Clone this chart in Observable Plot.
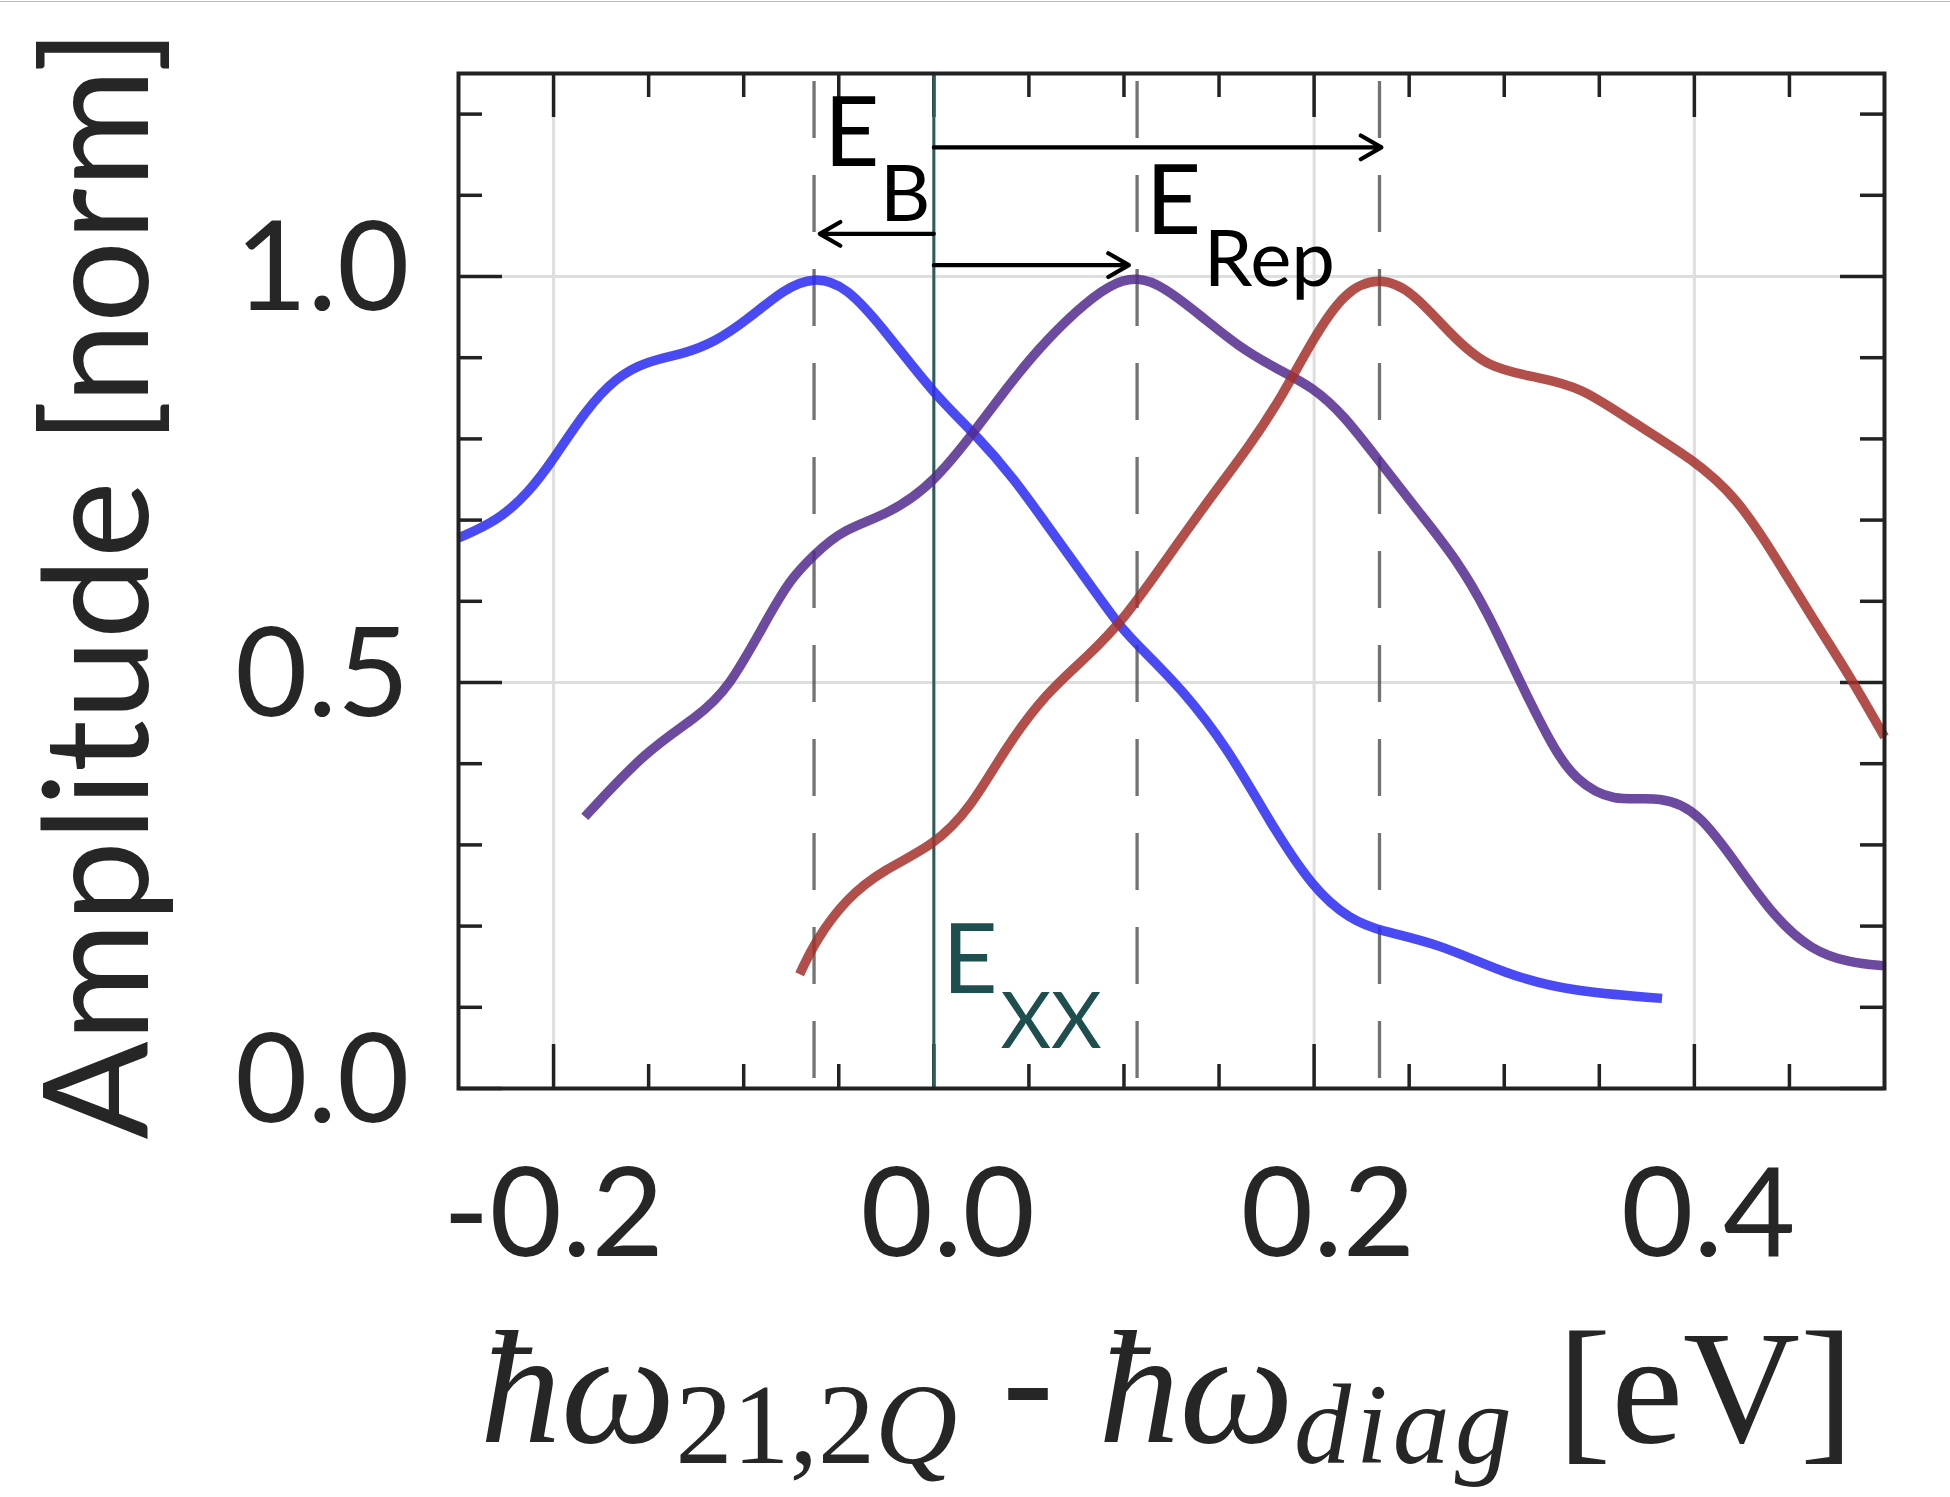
<!DOCTYPE html>
<html>
<head>
<meta charset="utf-8">
<script src="https://cdn.jsdelivr.net/npm/d3@7"></script>
<script src="https://cdn.jsdelivr.net/npm/@observablehq/plot@0.6"></script>
<style>
  html, body { margin: 0; padding: 0; background: #fff; }
  #topline { position: absolute; left: 0; top: 1px; width: 1950px; height: 1px; background: #b8b8b8; }
</style>
</head>
<body>
<div id="topline"></div>
<div id="chart"></div>
<script>
// ---- data ----
const blueX = [-0.25, -0.2295, -0.213, -0.200, -0.1836, -0.1672, -0.1508, -0.131, -0.1148, -0.0984, -0.0787, -0.063, -0.0459, -0.0262, 0, 0.021, 0.042, 0.0616, 0.078, 0.0977, 0.1076, 0.1305, 0.1552, 0.1764, 0.1994, 0.219, 0.2354, 0.265, 0.301, 0.3338, 0.383];
const blueY = [0.678, 0.699, 0.734, 0.775, 0.834, 0.876, 0.896, 0.905, 0.920, 0.946, 0.985, 1.0, 0.988, 0.935, 0.855, 0.808, 0.752, 0.687, 0.634, 0.569, 0.545, 0.492, 0.417, 0.329, 0.246, 0.208, 0.1936, 0.179, 0.1406, 0.120, 0.111];

const purpleX = [-0.1836, -0.151, -0.1246, -0.108, -0.0885, -0.0754, -0.063, -0.0492, -0.0229, 0, 0.021, 0.0387, 0.055, 0.0748, 0.0928, 0.1069, 0.1206, 0.1403, 0.16, 0.1797, 0.1994, 0.2158, 0.2354, 0.2551, 0.2748, 0.2912, 0.3076, 0.3262, 0.337, 0.3566, 0.383, 0.4026, 0.4223, 0.442, 0.4616, 0.4813, 0.5];
const purpleY = [0.3345, 0.417, 0.457, 0.492, 0.575, 0.628, 0.657, 0.687, 0.708, 0.746, 0.808, 0.864, 0.911, 0.958, 0.991, 1.0, 0.988, 0.952, 0.914, 0.887, 0.864, 0.829, 0.769, 0.710, 0.652, 0.587, 0.504, 0.417, 0.3815, 0.352, 0.361, 0.340, 0.276, 0.211, 0.170, 0.155, 0.151];

const redX = [-0.0706, -0.0623, -0.0459, -0.0262, 0, 0.0197, 0.037, 0.0584, 0.0814, 0.101, 0.1206, 0.1436, 0.1666, 0.183, 0.1994, 0.2158, 0.2344, 0.2517, 0.2715, 0.2912, 0.3174, 0.3403, 0.3666, 0.3993, 0.4223, 0.442, 0.4616, 0.4813, 0.5];
const redY = [0.1407, 0.182, 0.2347, 0.270, 0.299, 0.3465, 0.417, 0.486, 0.533, 0.581, 0.646, 0.722, 0.793, 0.852, 0.923, 0.982, 1.0, 0.982, 0.929, 0.887, 0.876, 0.864, 0.822, 0.775, 0.728, 0.657, 0.581, 0.510, 0.433];

const peakX = [-0.063, 0.1069, 0.2344];      // dashed peak markers
const excitonX = [0];                         // E_XX reference line

const xMajorTicks = [-0.2, 0, 0.2, 0.4];
const xMinorTicks = [-0.15, -0.1, -0.05, 0.05, 0.1, 0.15, 0.25, 0.3, 0.35, 0.45];
const yMajorTicks = [0, 0.5, 1.0];
const yMinorTicks = [0.1, 0.2, 0.3, 0.4, 0.6, 0.7, 0.8, 0.9, 1.1, 1.2];
const yGridLines = [0.5, 1.0];

// arrows: from E_XX (x=0) to each peak
const arrowStartX = [0, 0, 0];
const arrowEndX = [-0.06, 0.1026, 0.2354];
const arrowY = [1.0525, 1.014, 1.159];

// annotation anchors (data units)
const labelMain = ["E", "E", "E"];
const labelMainX = [-0.0578, 0.1114, 0.0044];
const labelMainY = [1.1356, 1.0518, 0.1171];
const labelSub = ["B", "Rep", "XX"];
const labelSubX = [-0.0283, 0.142, 0.035];
const labelSubY = [1.0678, 0.9877, 0.0493];

const yLabel = "Amplitude [norm]";

// ---- build tables ----
const zip = (xs, ys) => xs.map((x, i) => ({x, y: ys[i]}));
const blue = zip(blueX, blueY);
const purple = zip(purpleX, purpleY);
const red = zip(redX, redY);
const arrows = arrowStartX.map((x1, i) => ({x1, x2: arrowEndX[i], y: arrowY[i]}));
const mains = labelMain.map((t, i) => ({t, x: labelMainX[i], y: labelMainY[i], teal: i === 2}));
const subs = labelSub.map((t, i) => ({t, x: labelSubX[i], y: labelSubY[i], teal: i === 2}));

const W = 1950, H = 1497;
const mT = 73, mL = 458, mR = 66, mB = 409;
const innerW = W - mL - mR, innerH = H - mT - mB;
const majorLen = 44, minorLen = 24;
const frameColor = "#222";
const teal = "#2c5c5c";
const tealText = "#1f4e4e";
const fmt = d => d.toFixed(1);
const tickStyle = {stroke: frameColor, strokeWidth: 3.5};
const lineStyle = {x: "x", y: "y", strokeOpacity: 0.85, strokeWidth: 9.5, strokeLinecap: "butt", curve: "basis"};

const plot = Plot.plot({
  width: W, height: H,
  marginTop: mT, marginLeft: mL, marginRight: mR, marginBottom: mB,
  x: {domain: [-0.25, 0.5]},
  y: {domain: [0, 1.25]},
  style: {fontFamily: "Lato", background: "white", color: "#262626", overflow: "visible"},
  marks: [
    // grid
    Plot.ruleX(xMajorTicks, {stroke: "#dedede", strokeWidth: 3}),
    Plot.ruleY(yGridLines, {stroke: "#dedede", strokeWidth: 3}),
    // inward ticks
    Plot.ruleX(xMajorTicks, {...tickStyle, insetTop: innerH - majorLen}),
    Plot.ruleX(xMajorTicks, {...tickStyle, insetBottom: innerH - majorLen}),
    Plot.ruleX(xMinorTicks, {...tickStyle, insetTop: innerH - minorLen}),
    Plot.ruleX(xMinorTicks, {...tickStyle, insetBottom: innerH - minorLen}),
    Plot.ruleY(yMajorTicks, {...tickStyle, insetRight: innerW - majorLen}),
    Plot.ruleY(yMajorTicks, {...tickStyle, insetLeft: innerW - majorLen}),
    Plot.ruleY(yMinorTicks, {...tickStyle, insetRight: innerW - minorLen}),
    Plot.ruleY(yMinorTicks, {...tickStyle, insetLeft: innerW - minorLen}),
    // reference lines
    Plot.ruleX(peakX, {stroke: "#444", strokeOpacity: 0.75, strokeWidth: 3.3, strokeDasharray: "57,37", strokeDashoffset: -8}),
    Plot.ruleX(excitonX, {stroke: teal, strokeWidth: 3}),
    // curves
    Plot.line(blue, {...lineStyle, stroke: "rgb(42,42,243)"}),
    Plot.line(purple, {...lineStyle, stroke: "rgb(81,42,142)"}),
    Plot.line(red, {...lineStyle, stroke: "rgb(164,48,42)"}),
    // arrows
    Plot.arrow(arrows, {x1: "x1", x2: "x2", y1: "y", y2: "y", stroke: "black", strokeWidth: 4.2, headLength: 8.5, headAngle: 60}),
    // annotation labels
    Plot.text(mains, {x: "x", y: "y", text: "t", textAnchor: "start", lineAnchor: "bottom", fontSize: 96, fontFamily: "Lato", fill: d => d.teal ? tealText : "black"}),
    Plot.text(subs, {x: "x", y: "y", text: "t", textAnchor: "start", lineAnchor: "bottom", fontSize: 78, fontFamily: "Lato", fill: d => d.teal ? tealText : "black"}),
    // axes
    Plot.axisX(xMajorTicks.filter(d => d < 0), {tickSize: 0, tickPadding: 79, fontSize: 125, tickFormat: fmt, label: null}),
    Plot.axisX(xMajorTicks.filter(d => d >= 0), {tickSize: 0, tickPadding: 79, dx: 14, fontSize: 125, tickFormat: fmt, label: null}),
    Plot.axisY(yMajorTicks, {tickSize: 0, tickPadding: 49, dy: -7, fontSize: 125, tickFormat: fmt, label: null}),
    // y label
    Plot.text([yLabel], {text: d => d, frameAnchor: "left", rotate: -90, dx: -311, dy: 3, textAnchor: "middle", lineAnchor: "bottom", fontSize: 145, fontFamily: "Lato", fill: "#262626"}),
    Plot.frame({stroke: frameColor, strokeWidth: 4})
  ]
});

document.getElementById("chart").appendChild(plot);

// x-axis label (math expression) with sub-scripts
const xs = plot.scale("x"), ys = plot.scale("y");
const cx = (xs.range[0] + xs.range[1]) / 2 - 4;
const baseY = ys.range[0] + 354;
const svg = d3.select(plot);
const xl = svg.append("text")
  .attr("x", cx).attr("y", baseY)
  .attr("text-anchor", "middle")
  .attr("fill", "#262626")
  .attr("font-family", "'Liberation Serif', serif")
  .attr("font-size", 162);
const parts = [
  {t: "ħω", style: "italic", size: 162, dy: 0},
  {t: "21,2", style: "normal", size: 114, dy: 21},
  {t: "Q", style: "italic", size: 114, dy: 0},
  {t: " - ", style: "normal", size: 160, dy: -21, family: "Lato"},
  {t: "ħω", style: "italic", size: 162, dy: 0},
  {t: "diag", style: "italic", size: 114, dy: 21, spacing: 5},
  {t: " [eV]", style: "normal", size: 162, dy: -21}
];
parts.forEach(p => {
  const ts = xl.append("tspan")
    .attr("font-style", p.style)
    .attr("font-size", p.size)
    .attr("dy", p.dy)
    .text(p.t);
  if (p.family) ts.attr("font-family", p.family);
  if (p.spacing) ts.attr("letter-spacing", p.spacing);
});
</script>
</body>
</html>
